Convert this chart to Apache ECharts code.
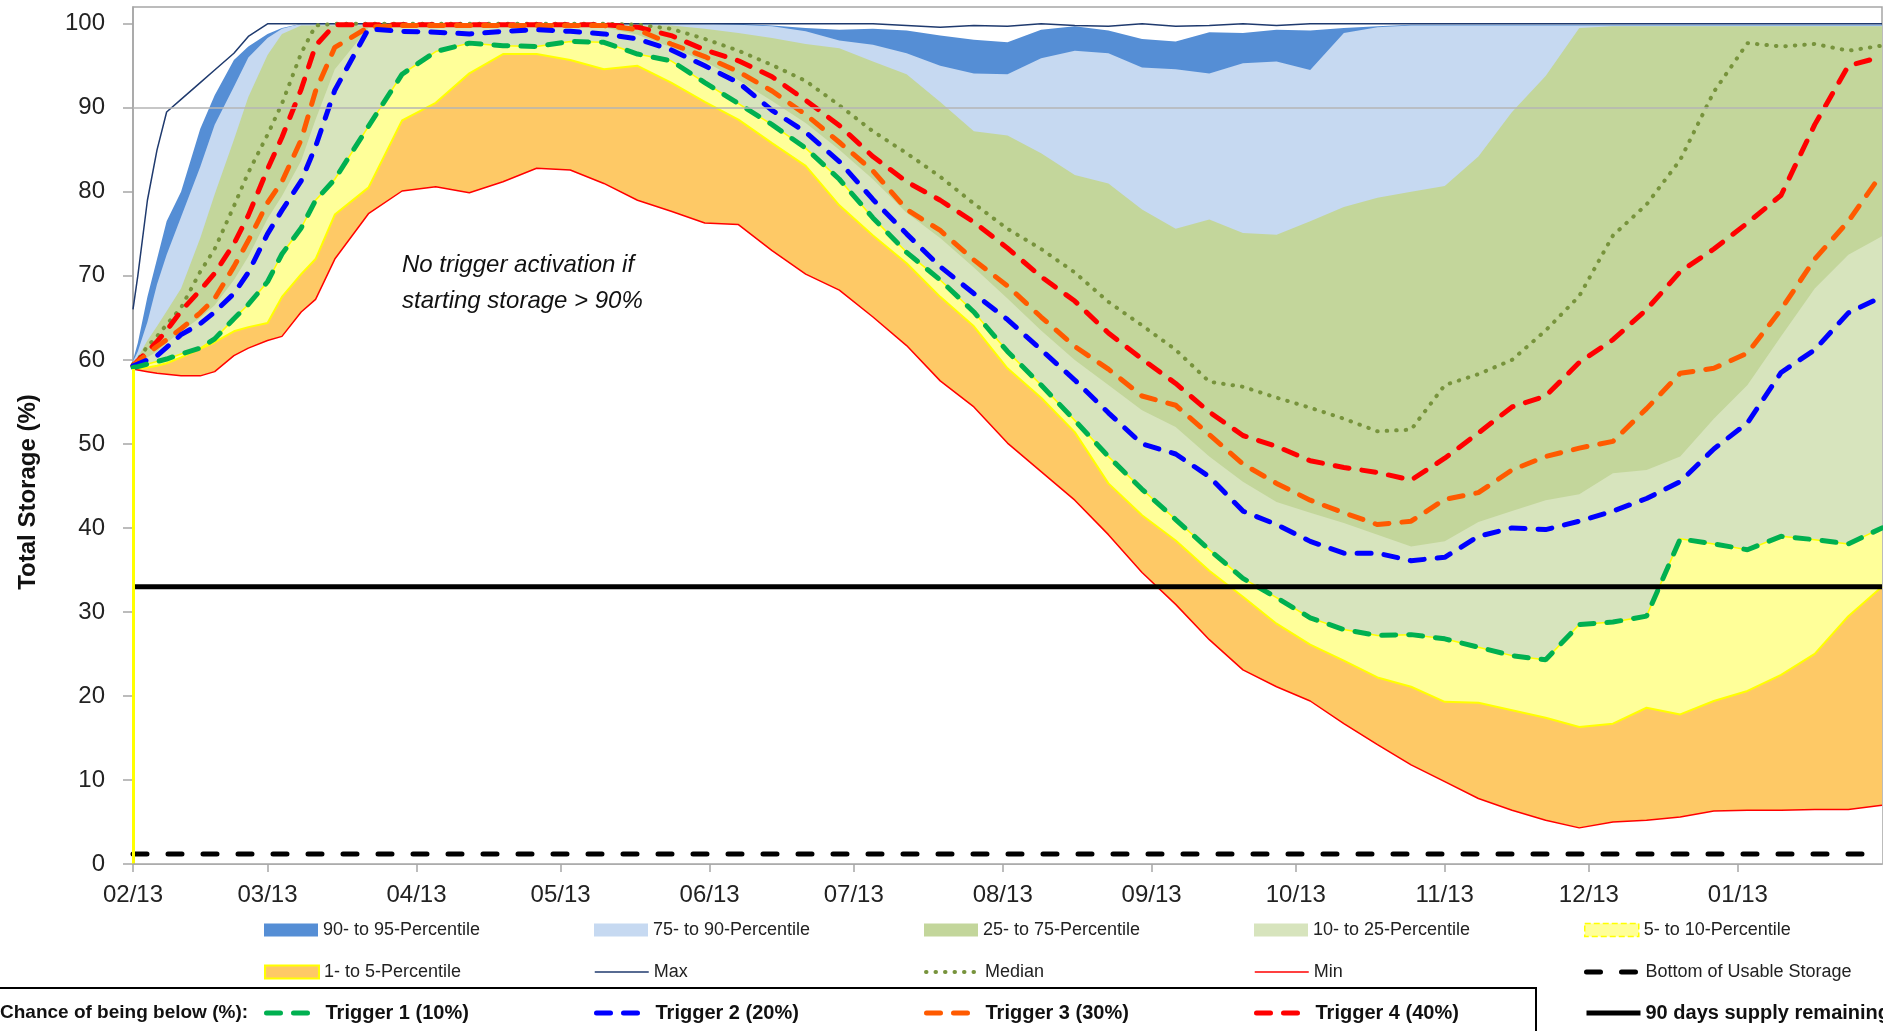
<!DOCTYPE html>
<html>
<head>
<meta charset="utf-8">
<title>Total Storage</title>
<script src="https://cdn.jsdelivr.net/npm/echarts@6/dist/echarts.min.js"></script>
<style>
  html, body { margin: 0; padding: 0; background: #fff; }
  #chart { width: 1883px; height: 1031px; }
</style>
</head>
<body>
<div id="chart"></div>
<script>
// sample dates (denser at the start where storage rises fast)
const dates = [
  '2013-02-13','2013-02-14','2013-02-16','2013-02-18','2013-02-20','2013-02-23','2013-02-27',
  '2013-03-02','2013-03-06','2013-03-09','2013-03-13','2013-03-16','2013-03-20','2013-03-23','2013-03-27',
  '2013-04-03','2013-04-10','2013-04-17','2013-04-24',
  '2013-05-01','2013-05-08','2013-05-15','2013-05-22','2013-05-29',
  '2013-06-05','2013-06-12','2013-06-19','2013-06-26',
  '2013-07-03','2013-07-10','2013-07-17','2013-07-24','2013-07-31',
  '2013-08-07','2013-08-14','2013-08-21','2013-08-28',
  '2013-09-04','2013-09-11','2013-09-18','2013-09-25',
  '2013-10-02','2013-10-09','2013-10-16','2013-10-23','2013-10-30',
  '2013-11-06','2013-11-13','2013-11-20','2013-11-27',
  '2013-12-04','2013-12-11','2013-12-18','2013-12-25',
  '2014-01-01','2014-01-08','2014-01-15','2014-01-22','2014-01-29',
  '2014-02-05','2014-02-12'
];

const monthTicks = [
  '2013-02-13','2013-03-13','2013-04-13','2013-05-13','2013-06-13','2013-07-13',
  '2013-08-13','2013-09-13','2013-10-13','2013-11-13','2013-12-13','2014-01-13'
];
const yTicks = [0, 10, 20, 30, 40, 50, 60, 70, 80, 90, 100];

const maxStorage = [
  66, 70, 79, 85, 89.5, 91, 93, 94.5, 96.5, 98.5,
  100, 100, 100, 100, 100, 100, 100, 100, 100, 100,
  100, 100, 100, 100, 100, 100, 100, 100, 100, 100,
  100, 99.8, 99.6, 99.8, 99.7, 100, 99.8, 99.7, 100, 99.7,
  99.8, 100, 99.8, 100, 100, 100, 100, 100, 100, 100,
  100, 100, 100, 100, 100, 100, 100, 100, 100, 100, 100
];
const p95 = [
  60, 62, 67.5, 72, 76.5, 80, 87.5, 91.5, 95.7, 97.3,
  98.8, 99.5, 100, 100, 100, 100, 100, 100, 100, 100,
  100, 100, 100, 100, 100, 100, 100, 99.8, 99.5, 99.3,
  99.4, 99.2, 98.6, 98.1, 97.8, 99.3, 99.7, 99.2, 98.2, 97.9,
  99, 98.9, 99.3, 99.2, 99.5, 99.7, 99.9, 99.9, 99.9, 99.9,
  99.9, 99.9, 99.9, 99.9, 99.9, 99.9, 99.9, 99.9, 99.9, 99.9, 99.9
];
const p90 = [
  59.8, 61, 64.5, 69, 72.5, 77, 83, 88, 92.5, 96,
  98.3, 99.4, 100, 100, 100, 100, 100, 100, 100, 100,
  100, 100, 100, 100, 100, 100, 99.9, 99.7, 99.1, 98,
  97.5, 96.5, 95, 94.1, 94, 95.9, 96.8, 96.5, 94.8, 94.6,
  94.1, 95.3, 95.5, 94.5, 98.9, 99.6, 99.8, 99.8, 99.8, 99.8,
  99.8, 99.8, 99.8, 99.8, 99.8, 99.8, 99.8, 99.8, 99.8, 99.8, 99.8
];
const p75 = [
  59.5, 60.3, 62.3, 64, 65.8, 68.5, 74.5, 79.7, 86.2, 91.3,
  96.3, 98.8, 99.8, 99.8, 99.8, 99.8, 99.8, 99.8, 99.8, 99.8,
  99.8, 99.8, 99.8, 99.8, 99.8, 99.4, 98.9, 98.3, 97.6, 97.1,
  95.5, 94, 90.7, 87.2, 86.7, 84.6, 82, 81, 77.9, 75.6,
  76.7, 75.1, 74.9, 76.5, 78.2, 79.3, 80, 80.7, 84.2, 89.5,
  93.8, 99.5, 99.7, 99.7, 99.7, 99.7, 99.7, 99.7, 99.7, 99.7, 99.7
];
const median = [
  59.5, 60, 61.6, 62.8, 64.2, 66.2, 70.5, 73.2, 78.3, 82.3,
  86.8, 90.5, 96.5, 99.8, 100, 100, 100, 100, 100, 100,
  100, 100, 100, 99.9, 99.4, 98.2, 96.8, 95.1, 93.2, 90.3,
  87.2, 84.6, 81.8, 78.6, 75.6, 73.2, 70.4, 66.9, 64.1, 61.2,
  57.4, 56.8, 55.5, 54.3, 53, 51.5, 51.7, 57, 58.3, 60,
  63.5, 67.6, 74.8, 78.5, 83.8, 91.9, 97.7, 97.3, 97.6, 96.8, 97.4
];
const p25 = [
  59.3, 59.6, 60.3, 61, 62, 63.4, 65, 66.5, 69.5, 72.3,
  76.8, 79.5, 83.7, 88.6, 94.6, 99.5, 99.6, 99.6, 99.6, 99.6,
  99.6, 99.6, 99.6, 98.7, 97.2, 95.5, 93.3, 90.8, 88.2, 85,
  81.5, 77.5, 74.5, 71, 67.3, 63.5, 60, 57, 54, 52,
  48.5, 45.5, 43.1, 41.8, 40.6, 39.2, 37.8, 38.4, 40.7, 42,
  43.3, 44, 46.5, 46.9, 48.5, 53, 57, 62.8, 68.5, 72.5, 74.7
];
// 10th percentile = Trigger 1 (10%)
const p10 = [
  59.1, 59.2, 59.5, 59.8, 60.1, 60.7, 61.4, 62.5, 64.9, 66.6,
  69.3, 72.6, 75.7, 79, 81.5, 87.8, 94, 96.7, 97.7, 97.4,
  97.3, 97.9, 97.8, 96.4, 95.6, 93, 90.5, 88, 85.2, 81.5,
  76.9, 72.8, 69.5, 65.7, 61, 57, 52.8, 48.5, 44.6, 41,
  37.4, 34, 31.7, 29.3, 27.9, 27.2, 27.3, 26.8, 25.8, 24.8,
  24.3, 28.5, 28.8, 29.5, 38.7, 38.1, 37.4, 39, 38.6, 38.1, 40
];
const p5 = [
  58.9, 58.95, 59.1, 59.3, 59.6, 60.3, 61.3, 62.1, 63.4, 63.9,
  64.4, 67.5, 70.2, 72, 77.3, 80.5, 88.5, 90.6, 94.1, 96.4,
  96.4, 95.7, 94.6, 95, 93, 90.7, 88.6, 85.8, 83.1, 78.4,
  74.8, 71.5, 67.5, 64, 59, 55.5, 51.4, 45.3, 41.5, 38.5,
  34.9, 31.8, 28.6, 26.1, 24.2, 22.2, 21.1, 19.3, 19.2, 18.3,
  17.4, 16.3, 16.7, 18.6, 17.8, 19.4, 20.6, 22.5, 25, 29.5, 33
];
const minStorage = [
  58.9, 58.8, 58.6, 58.4, 58.3, 58.1, 58.1, 58.6, 60.5, 61.4,
  62.3, 62.8, 65.7, 67.2, 72, 77.4, 80.1, 80.6, 79.9, 81.2,
  82.8, 82.6, 81, 79, 77.7, 76.3, 76.1, 73, 70.2, 68.3,
  65.1, 61.7, 57.5, 54.4, 50.1, 46.7, 43.3, 39.2, 34.7, 30.9,
  26.7, 23.1, 21.1, 19.4, 16.7, 14.2, 11.8, 9.8, 7.8, 6.4,
  5.2, 4.3, 5, 5.2, 5.6, 6.3, 6.4, 6.4, 6.5, 6.5, 7
];
const trigger2 = [
  59.3, 59.5, 60, 60.5, 61.5, 63, 64.3, 65.7, 67.9, 70.4,
  75, 77.8, 81.3, 85.4, 92.1, 99.4, 99.1, 99, 98.8, 99.1,
  99.3, 99.1, 98.8, 98.2, 96.9, 95, 93, 89.7, 87.1, 83.6,
  79.1, 75, 71.1, 67.9, 64.8, 61.2, 57.6, 53.7, 50, 48.8,
  46.1, 42, 40.4, 38.4, 37, 37, 36.1, 36.5, 39, 40,
  39.8, 40.8, 42, 43.5, 45.5, 49.4, 52.5, 58.5, 61.2, 65.6, 67.5
];
const trigger3 = [
  59.3, 59.8, 60.7, 61.6, 62.4, 63.7, 65.6, 67.3, 71.1, 74.2,
  78.7, 81.2, 86.2, 92, 97.2, 99.6, 99.8, 99.8, 99.8, 99.8,
  99.8, 99.8, 99.8, 99.3, 97.6, 96.1, 94.3, 92, 89.2, 85.9,
  82.5, 77.9, 75.4, 71.9, 68.8, 65.1, 61.6, 58.9, 55.7, 54.6,
  51.1, 47.6, 45.3, 43.3, 41.8, 40.4, 40.8, 43.4, 44.2, 46.9,
  48.5, 49.5, 50.3, 54.2, 58.4, 59, 60.8, 66, 72, 76.5, 82.2
];
const trigger4 = [
  59.3, 59.9, 61, 62.2, 63.5, 65.8, 68.3, 70.3, 73.8, 77.2,
  82.7, 86.5, 92.2, 97.4, 99.9, 99.9, 99.9, 99.9, 99.9, 99.9,
  99.9, 99.9, 99.9, 99.6, 98.6, 96.9, 95.6, 93.7, 90.9, 87.9,
  84.2, 81.2, 79, 76.4, 73.3, 69.9, 67, 63.2, 60.1, 57.2,
  53.8, 51, 49.7, 48, 47.2, 46.6, 45.7, 48.3, 51.3, 54.4,
  55.7, 59.7, 62.4, 66, 70.5, 73.2, 76.3, 79.6, 88, 95, 96.1
];

const bottomUsable = 1.2;     // bottom of usable storage (%)
const supply90 = 33;          // 90 days supply remaining (%)
const noTriggerLevel = 90;    // no trigger activation above this

const font = "'Liberation Sans', Arial, sans-serif";
// dates -> local-midnight timestamps, drawn on a plain value axis
const t = s => { const [y, m, d] = s.split('-').map(Number); return new Date(y, m - 1, d).getTime(); };
const times = dates.map(t);
const pts = vals => times.map((x, i) => [x, vals[i]]);
const flat = v => [[times[0], v], [times[times.length - 1], v]];
const pad = n => (n < 10 ? '0' : '') + n;

// line styles (reused by the legend icons)
const styles = {
  max: { color: '#1f3a6e', width: 1.5 },
  median: { color: '#77933c', width: 4, type: [0.5, 9], cap: 'round' },
  min: { color: '#ff0000', width: 1.5 },
  bottom: { color: '#000', width: 5, type: [14, 21], cap: 'round' },
  supply: { color: '#000', width: 5 },
  t1: { color: '#00b050', width: 5, type: [14, 13], cap: 'round' },
  t2: { color: '#0000ff', width: 5, type: [14, 13], cap: 'round' },
  t3: { color: '#ff5a00', width: 5, type: [14, 13], cap: 'round' },
  t4: { color: '#ff0000', width: 5, type: [14, 13], cap: 'round' }
};

function area(name, vals, fill, line) {
  return {
    name, type: 'line', data: pts(vals), symbol: 'none', silent: true,
    itemStyle: { color: fill },
    lineStyle: line || { width: 0, opacity: 0 },
    areaStyle: { color: fill, opacity: 1 }
  };
}
function line(name, data, style) {
  return {
    name, type: 'line', data, symbol: 'none', silent: true,
    itemStyle: { color: style.color }, lineStyle: style
  };
}

const minSeries = area('Min', minStorage, '#ffffff', styles.min);
minSeries.itemStyle = { color: '#ff0000' };
minSeries.markLine = {
  silent: true, symbol: ['none', 'none'], label: { show: false },
  lineStyle: { color: '#b4b4b4', width: 1.5, type: 'solid' },
  data: [
    { yAxis: noTriggerLevel },
    // yellow left edge of the 1- to 5-percentile band
    [{ coord: [times[0], 0], lineStyle: { color: '#ffff00', width: 3, type: 'solid' } },
     { coord: [times[0], p5[0]] }]
  ]
};

const series = [
  area('90- to 95-Percentile', p95, '#558ed5'),
  area('75- to 90-Percentile', p90, '#c6d9f1'),
  area('25- to 75-Percentile', p75, '#c3d69b'),
  area('10- to 25-Percentile', p25, '#d7e4bd'),
  area('5- to 10-Percentile', p10, '#ffff99', { color: '#ffff00', width: 1.5 }),
  area('1- to 5-Percentile', p5, '#fec966', { color: '#ffff00', width: 2 }),
  minSeries,
  line('Max', pts(maxStorage), styles.max),
  line('Median', pts(median), styles.median),
  line('Trigger 4 (40%)', pts(trigger4), styles.t4),
  line('Trigger 3 (30%)', pts(trigger3), styles.t3),
  line('Trigger 2 (20%)', pts(trigger2), styles.t2),
  line('Trigger 1 (10%)', pts(p10), styles.t1),
  line('Bottom of Usable Storage', flat(bottomUsable), styles.bottom),
  line('90 days supply remaining', flat(supply90), styles.supply)
];

// legend: three rows, five fixed columns (one legend component per cell)
const rect = (name, color, extra) => ({
  name, icon: 'rect', itemStyle: Object.assign({ color, borderWidth: 0, opacity: 1 }, extra || {})
});
const lineItem = (name, style) => ({ name, itemStyle: { opacity: 0 }, lineStyle: style });
const legendRows = [
  { top: 921, text: { fontSize: 18 }, items: [
    rect('90- to 95-Percentile', '#558ed5'),
    rect('75- to 90-Percentile', '#c6d9f1'),
    rect('25- to 75-Percentile', '#c3d69b'),
    rect('10- to 25-Percentile', '#d7e4bd'),
    rect('5- to 10-Percentile', '#ffff99', { borderColor: '#ffff00', borderWidth: 1.5, borderType: 'dashed' })
  ] },
  { top: 963, text: { fontSize: 18 }, items: [
    rect('1- to 5-Percentile', '#fec966', { borderColor: '#ffff00', borderWidth: 2 }),
    lineItem('Max', styles.max), lineItem('Median', styles.median),
    lineItem('Min', styles.min), lineItem('Bottom of Usable Storage', styles.bottom)
  ] },
  { top: 1003, text: { fontSize: 20, fontWeight: 'bold', color: '#111' }, items: [
    lineItem('Trigger 1 (10%)', styles.t1), lineItem('Trigger 2 (20%)', styles.t2),
    lineItem('Trigger 3 (30%)', styles.t3), lineItem('Trigger 4 (40%)', styles.t4),
    lineItem('90 days supply remaining', styles.supply)
  ] }
];
const legends = [];
legendRows.forEach(row => row.items.forEach((item, col) => {
  legends.push({
    top: row.top, left: 264 + 330 * col, padding: 0,
    itemWidth: 54, itemHeight: 13, itemGap: 0, selectedMode: false,
    textStyle: Object.assign({ fontFamily: font, color: '#222' }, row.text),
    data: [item]
  });
}));

const chart = echarts.init(document.getElementById('chart'));
chart.setOption({
  animation: false,
  backgroundColor: '#fff',
  textStyle: { fontFamily: font },
  grid: {
    left: 133, right: 1, top: 7, bottom: 167,
    show: true, borderColor: '#a6a6a6', borderWidth: 1.5, backgroundColor: 'transparent'
  },
  xAxis: {
    type: 'value', min: times[0], max: times[times.length - 1], z: 5,
    axisLine: { show: true, onZero: false, lineStyle: { color: '#a6a6a6', width: 1.5 } },
    axisTick: { show: true, length: 8, lineStyle: { color: '#a6a6a6', width: 1.5 }, customValues: monthTicks.map(t) },
    axisLabel: {
      customValues: monthTicks.map(t), fontSize: 24, color: '#222', margin: 19, hideOverlap: false,
      formatter: v => { const d = new Date(v); return pad(d.getMonth() + 1) + '/' + pad(d.getDate()); }
    },
    splitLine: { show: false }
  },
  yAxis: {
    type: 'value', min: 0, max: 102, z: 1,
    axisLine: { show: true, lineStyle: { color: '#a6a6a6', width: 1.5 } },
    axisTick: { show: true, length: 10, lineStyle: { color: '#a6a6a6', width: 1.5 }, customValues: yTicks },
    axisLabel: { customValues: yTicks, fontSize: 24, color: '#222', margin: 28 },
    splitLine: { show: false }
  },
  legend: legends,
  graphic: [
    {
      type: 'text', x: 402, y: 247, z: 100, silent: true,
      style: {
        text: 'No trigger activation if\nstarting storage > 90%',
        font: "italic 24px 'Liberation Sans Narrow', 'Liberation Sans', sans-serif",
        lineHeight: 36, fill: '#111'
      }
    },
    {
      type: 'text', x: 28, y: 492, rotation: Math.PI / 2, z: 100, silent: true,
      style: {
        text: 'Total Storage (%)', font: "bold 24px 'Liberation Sans', sans-serif",
        fill: '#111', align: 'center', verticalAlign: 'middle', textAlign: 'center', textVerticalAlign: 'middle'
      }
    },
    {
      type: 'text', x: 0, y: 1013, z: 100, silent: true,
      style: {
        text: 'Chance of being below (%):', font: "bold 19px 'Liberation Sans', sans-serif",
        fill: '#111', verticalAlign: 'middle', textVerticalAlign: 'middle'
      }
    },
    {
      type: 'rect', z: 100, silent: true,
      shape: { x: -2, y: 988, width: 1538, height: 60 },
      style: { fill: 'none', stroke: '#000', lineWidth: 2 }
    }
  ],
  series
});
</script>
</body>
</html>
